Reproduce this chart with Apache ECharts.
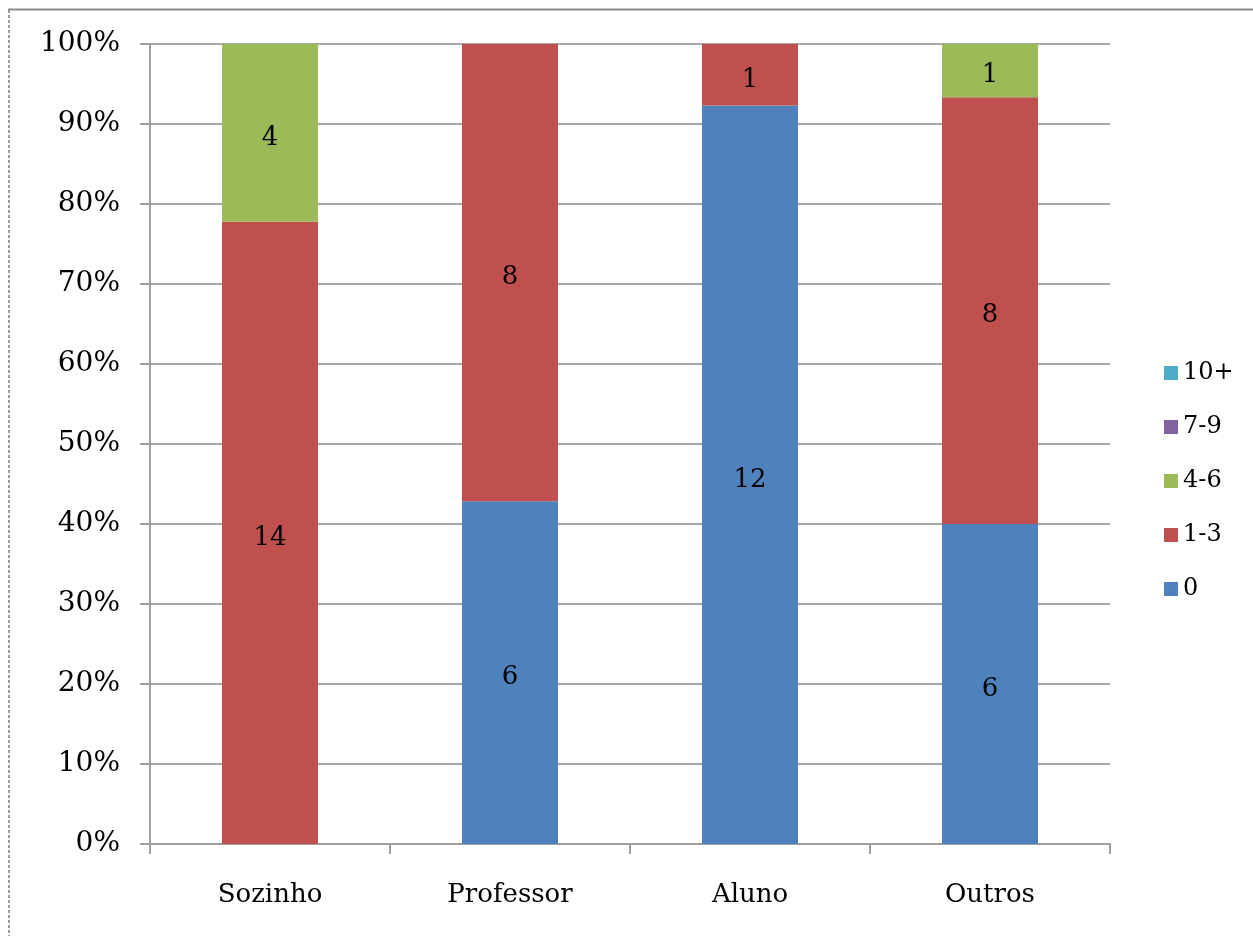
<!DOCTYPE html>
<html>
<head>
<meta charset="utf-8">
<script src="https://cdn.jsdelivr.net/npm/echarts@6/dist/echarts.min.js"></script>
<style>
html,body{margin:0;padding:0;background:#fff;}
#chart{width:1253px;height:936px;}
</style>
</head>
<body>
<div id="chart"></div>
<script>
var categories = ['Sozinho', 'Professor', 'Aluno', 'Outros'];
var seriesNames = ['0', '1-3', '4-6', '7-9', '10+'];
var counts0   = [0, 6, 12, 6];
var counts1_3 = [14, 8, 1, 8];
var counts4_6 = [4, 0, 0, 1];
var counts7_9 = [0, 0, 0, 0];
var counts10p = [0, 0, 0, 0];
var colors = ['#4F81BD', '#C0504D', '#9BBB59', '#8064A2', '#4BACC6'];

var allCounts = [counts0, counts1_3, counts4_6, counts7_9, counts10p];
var totals = categories.map(function (c, i) {
  return allCounts.reduce(function (s, arr) { return s + arr[i]; }, 0);
});

var FONT = 'DejaVu Serif';

var series = allCounts.map(function (arr, si) {
  return {
    name: seriesNames[si],
    type: 'bar',
    stack: 'total',
    barWidth: '40%',
    itemStyle: { color: colors[si] },
    label: {
      show: true,
      position: 'inside',
      offset: [0, 5],
      color: '#000',
      fontFamily: FONT,
      fontSize: 26,
      formatter: function (p) {
        var v = allCounts[p.seriesIndex][p.dataIndex];
        return v === 0 ? '' : String(v);
      }
    },
    emphasis: { disabled: true },
    data: arr.map(function (v, i) { return v / totals[i] * 100; })
  };
});

var chart = echarts.init(document.getElementById('chart'));
chart.setOption({
  animation: false,
  backgroundColor: '#fff',
  grid: { left: 150, right: 143, top: 44, bottom: 92, containLabel: false },
  legend: {
    orient: 'vertical',
    left: 1159,
    top: 356,
    itemWidth: 14,
    itemHeight: 14,
    itemGap: 30,
    icon: 'rect',
    data: ['10+', '7-9', '4-6', '1-3', '0'],
    textStyle: { fontFamily: FONT, fontSize: 24, color: '#000', lineHeight: 24 }
  },
  xAxis: {
    type: 'category',
    data: categories,
    axisLine: { lineStyle: { color: '#a0a0a0', width: 2 } },
    axisTick: { show: true, length: 10, lineStyle: { color: '#a0a0a0', width: 2 } },
    axisLabel: { fontFamily: FONT, fontSize: 26, color: '#000', margin: 38 }
  },
  yAxis: {
    type: 'value',
    min: 0,
    max: 100,
    interval: 10,
    axisLine: { show: true, lineStyle: { color: '#a0a0a0', width: 2 } },
    axisTick: { show: true, length: 10, lineStyle: { color: '#a0a0a0', width: 2 } },
    axisLabel: { fontFamily: FONT, fontSize: 28, color: '#000', margin: 30, padding: [6, 0, 0, 0], formatter: '{value}%' },
    splitLine: { lineStyle: { color: '#a6a6a6', width: 2 } }
  },
  graphic: [
    { type: 'line', shape: { x1: 8, y1: 9.5, x2: 1253, y2: 9.5 }, style: { stroke: '#8a8a8a', lineWidth: 2 } },
    { type: 'line', shape: { x1: 9, y1: 10, x2: 9, y2: 936 }, style: { stroke: '#9a9a9a', lineWidth: 2, lineDash: [3, 2] } }
  ],
  series: series
});
</script>
</body>
</html>
